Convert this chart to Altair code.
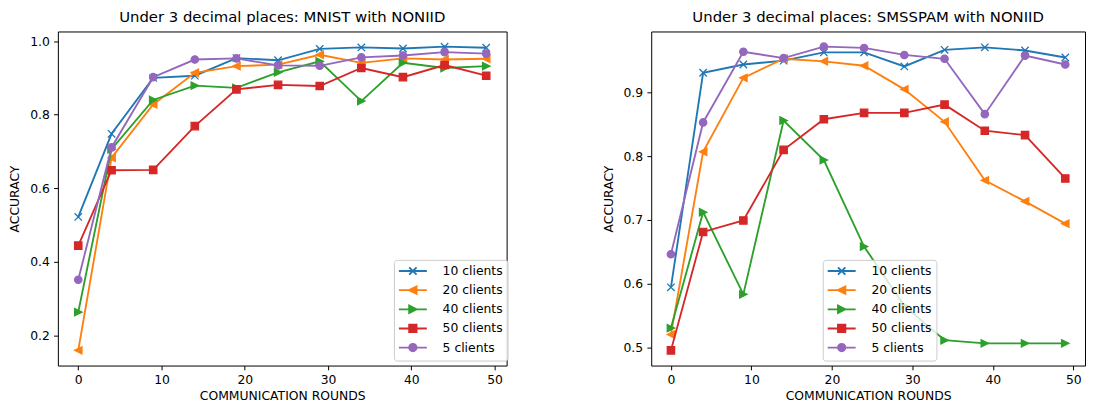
import altair as alt
import pandas as pd

# ---------------- data ----------------
rounds = [0, 4, 9, 14, 19, 24, 29, 34, 39, 44, 49]
series_names = ["10 clients", "20 clients", "40 clients", "50 clients", "5 clients"]
x_ticks = [0, 10, 20, 30, 40, 50]
mnist_y_ticks = [0.2, 0.4, 0.6, 0.8, 1.0]
sms_y_ticks = [0.5, 0.6, 0.7, 0.8, 0.9]

mnist_10 = [0.522, 0.748, 0.900, 0.906, 0.954, 0.948, 0.979, 0.983, 0.980, 0.985, 0.982]
mnist_20 = [0.159, 0.683, 0.828, 0.914, 0.932, 0.936, 0.963, 0.941, 0.953, 0.950, 0.952]
mnist_40 = [0.263, 0.706, 0.840, 0.879, 0.873, 0.915, 0.945, 0.837, 0.941, 0.927, 0.932]
mnist_50 = [0.444, 0.649, 0.650, 0.769, 0.869, 0.881, 0.878, 0.927, 0.902, 0.935, 0.906]
mnist_5 = [0.351, 0.711, 0.902, 0.950, 0.953, 0.934, 0.933, 0.956, 0.961, 0.970, 0.966]

sms_10 = [0.594, 0.931, 0.944, 0.950, 0.963, 0.963, 0.941, 0.967, 0.971, 0.966, 0.955]
sms_20 = [0.520, 0.807, 0.923, 0.953, 0.949, 0.942, 0.905, 0.854, 0.762, 0.729, 0.694]
sms_40 = [0.530, 0.712, 0.583, 0.856, 0.794, 0.658, 0.565, 0.511, 0.506, 0.506, 0.506]
sms_50 = [0.495, 0.681, 0.699, 0.810, 0.858, 0.868, 0.868, 0.881, 0.840, 0.833, 0.765]
sms_5 = [0.646, 0.853, 0.964, 0.954, 0.972, 0.970, 0.959, 0.953, 0.866, 0.958, 0.944]

mnist_values = [mnist_10, mnist_20, mnist_40, mnist_50, mnist_5]
sms_values = [sms_10, sms_20, sms_40, sms_50, sms_5]

# ---------------- styles ----------------
FONT = "DejaVu Sans"
colors = ["#1f77b4", "#ff7f0e", "#2ca02c", "#d62728", "#9467bd"]
marker_shapes = [
    "M-1,-1L1,1M-1,1L1,-1",
    "M-1,0L1,-1L1,1Z",
    "M1,0L-1,-1L-1,1Z",
    "square",
    "circle",
]
marker_stroke_only = [True, False, False, False, False]
a = 0.925
legend_shapes = [
    f"M-3.5,0L3.5,0M-{a},-{a}L{a},{a}M-{a},{a}L{a},-{a}",
    f"M-3.5,0L3.5,0M-{a},0L{a},-{a}L{a},{a}Z",
    f"M-3.5,0L3.5,0M{a},0L-{a},-{a}L-{a},{a}Z",
    f"M-3.5,0L3.5,0M-{a},-{a}H{a}V{a}H-{a}Z",
    f"M-3.5,0L3.5,0M{a},0A{a},{a},0,1,1,-{a},0A{a},{a},0,1,1,{a},0Z",
]

PH = 335


def panel(title, values, y_ticks, legend_x, legend_y, width):
    rows = []
    for name, vals in zip(series_names, values):
        for r, v in zip(rounds, vals):
            rows.append({"step": r, "accuracy": v, "series": name})
    df = pd.DataFrame(rows)

    all_vals = [v for vals in values for v in vals]
    ylo, yhi = min(all_vals), max(all_vals)
    ypad = 0.05 * (yhi - ylo)
    xlo, xhi = min(rounds), max(rounds)
    xpad = 0.05 * (xhi - xlo)

    x = alt.X(
        "step:Q",
        scale=alt.Scale(domain=[xlo - xpad, xhi + xpad], nice=False, zero=False),
        axis=alt.Axis(values=x_ticks, format="d", title="COMMUNICATION ROUNDS",
                      labelPadding=3.5, titlePadding=3.5),
    )
    y = alt.Y(
        "accuracy:Q",
        scale=alt.Scale(domain=[ylo - ypad, yhi + ypad], nice=False, zero=False),
        axis=alt.Axis(values=y_ticks, format=".1f", title="ACCURACY",
                      labelPadding=4.3, titlePadding=8),
    )

    base = alt.Chart(df)
    layers = []
    for name, color, shape, stroke_only in zip(series_names, colors, marker_shapes, marker_stroke_only):
        sub = base.transform_filter(alt.datum.series == name)
        layers.append(sub.mark_line(color=color, strokeWidth=1.86).encode(x=x, y=y))
        if stroke_only:
            pt = sub.mark_point(shape=shape, filled=False, stroke=color, strokeWidth=1.3,
                                size=55, opacity=1)
        else:
            pt = sub.mark_point(shape=shape, filled=True, fill=color, stroke=color,
                                strokeWidth=1.24, size=55, opacity=1)
        layers.append(pt.encode(x=x, y=y))

    leg = alt.Legend(
        title=None, orient="none", legendX=legend_x, legendY=legend_y,
        symbolSize=64, symbolStrokeWidth=1.86, symbolOffset=7.8, labelOffset=23.6,
        symbolOpacity=1, symbolFillColor="white", symbolStrokeColor="white",
        labelFont=FONT, labelFontSize=12.4, labelColor="black",
        padding=5, rowPadding=3.2,
        fillColor="rgba(255,255,255,0.8)", strokeColor="#cccccc", cornerRadius=3,
    )
    legend_layer = base.mark_point(filled=True, opacity=0, size=64).encode(
        x=x, y=y,
        fill=alt.Fill("series:N", scale=alt.Scale(domain=series_names, range=colors), legend=leg),
        stroke=alt.Stroke("series:N", scale=alt.Scale(domain=series_names, range=colors), legend=leg),
        shape=alt.Shape("series:N", scale=alt.Scale(domain=series_names, range=legend_shapes), legend=leg),
    )
    layers.append(legend_layer)

    return alt.layer(*layers).properties(
        width=width, height=PH,
        title=alt.TitleParams(title, font=FONT, fontSize=14.9, fontWeight="normal",
                              color="black", offset=7, anchor="middle"),
    )


left = panel("Under 3 decimal places: MNIST with NONIID", mnist_values, mnist_y_ticks, 337, 229, 450)
right = panel("Under 3 decimal places: SMSSPAM with NONIID", sms_values, sms_y_ticks, 172, 229, 435)

chart = (
    alt.hconcat(left, right, spacing=93)
    .resolve_scale(x="independent", y="independent", fill="independent",
                   stroke="independent", shape="independent")
    .resolve_legend(fill="independent", stroke="independent", shape="independent")
    .properties(padding={"left": 0, "top": 0, "right": 0, "bottom": 0})
    .configure_view(stroke="black", strokeWidth=1)
    .configure_axis(
        domain=False, grid=False, ticks=True, tickColor="black", tickSize=4.3, tickWidth=1,
        labelFont=FONT, labelFontSize=12.4, labelColor="black",
        titleFont=FONT, titleFontSize=12.4, titleFontWeight="normal", titleColor="black",
    )
)

chart.save("out.html", embed_options={"renderer": "svg", "actions": False})
